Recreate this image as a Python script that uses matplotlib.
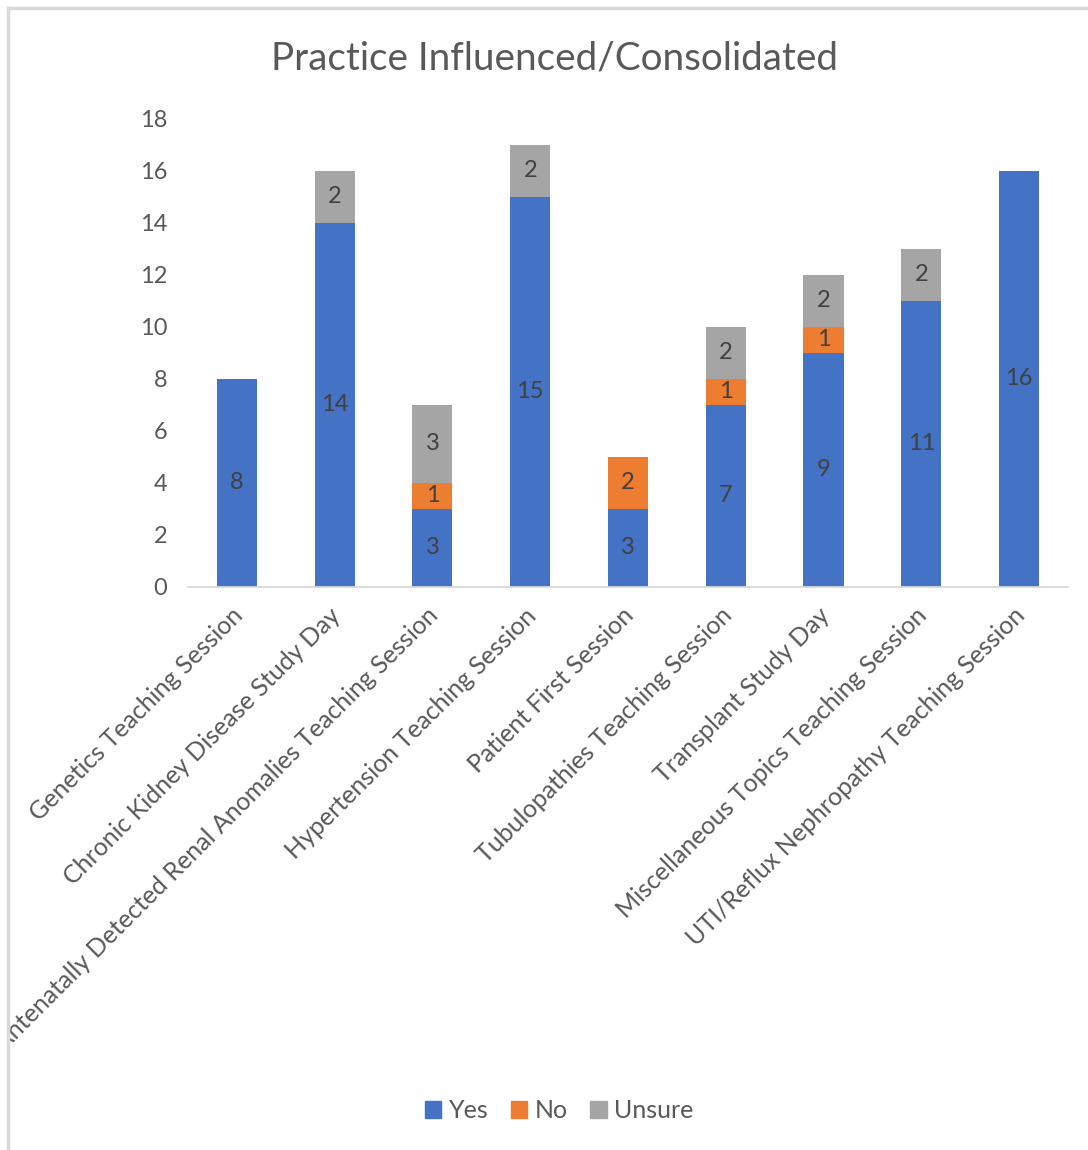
import matplotlib
matplotlib.use("Agg")
import matplotlib.pyplot as plt
import numpy as np
from matplotlib.lines import Line2D
from matplotlib.transforms import Bbox, TransformedBbox, ScaledTranslation

# data
categories = [
    "Genetics Teaching Session",
    "Chronic Kidney Disease Study Day",
    "Antenatally Detected Renal Anomalies Teaching Session",
    "Hypertension Teaching Session",
    "Patient First Session",
    "Tubulopathies Teaching Session",
    "Transplant Study Day",
    "Miscellaneous Topics Teaching Session",
    "UTI/Reflux Nephropathy Teaching Session",
]
yes_vals = [8, 14, 3, 15, 3, 7, 9, 11, 16]
no_vals = [0, 0, 1, 0, 2, 1, 1, 0, 0]
unsure_vals = [0, 2, 3, 2, 0, 2, 2, 2, 0]
series_names = ["Yes", "No", "Unsure"]
y_ticks = [0, 2, 4, 6, 8, 10, 12, 14, 16, 18]

colors = ["#4472C4", "#ED7D31", "#A5A5A5"]
text_col = "#595959"

plt.rcParams['font.family'] = ['Lato', 'DejaVu Sans']

fig = plt.figure(figsize=(10.88, 11.5), dpi=100)
ax = fig.add_axes([0.1728, 0.4896, 0.8088, 0.4070])

x = np.arange(len(categories))
bottom = np.zeros(len(categories))
for name, vals, col in zip(series_names, [yes_vals, no_vals, unsure_vals], colors):
    vals = np.array(vals, dtype=float)
    ax.bar(x, vals, width=0.41, bottom=bottom, color=col, label=name, zorder=2)
    for xi, b, v in zip(x, bottom, vals):
        if v > 0:
            ax.text(xi, b + v / 2, "%d" % v, ha="center", va="center",
                    fontsize=17, color="#404040", zorder=3)
    bottom += vals

ax.set_xlim(-0.5, len(categories) - 0.5)
ax.set_ylim(0, 18)
ax.set_yticks(y_ticks)
ax.set_xticks(x)
ax.set_xticklabels(categories, rotation=45, ha="right", rotation_mode="anchor",
                   fontsize=18)
ax.tick_params(axis="both", length=0, labelsize=17, labelcolor=text_col)
ax.tick_params(axis="x", labelsize=18, pad=12)
ax.tick_params(axis="y", pad=15)

for s in ["top", "right", "left"]:
    ax.spines[s].set_visible(False)
ax.spines["bottom"].set_color("#d9d9d9")
ax.spines["bottom"].set_linewidth(1.3)

# nudge category labels a little left and clip them at the chart border
shift = ScaledTranslation(-6 / 100, 0, fig.dpi_scale_trans)
clip = TransformedBbox(Bbox([[8.5 / 1088, 0], [1, 1]]), fig.transFigure)
for lab in ax.get_xticklabels():
    lab.set_transform(lab.get_transform() + shift)
    lab.set_clip_box(clip)
    lab.set_clip_on(True)

fig.text(0.51, 0.949, "Practice Influenced/Consolidated", ha="center", va="center",
         fontsize=27.8, color=text_col)

handles = [plt.Rectangle((0, 0), 1, 1, color=c) for c in colors]
fig.legend(handles, series_names, loc="center", bbox_to_anchor=(0.514, 0.034), ncol=3,
           frameon=False, fontsize=18, labelcolor=text_col, handlelength=0.65,
           handleheight=0.65, handletextpad=0.3, columnspacing=0.9)

# chart area border (top and left edges visible in reference)
fig.add_artist(Line2D([8 / 1088, 8 / 1088], [0, 1 - 8 / 1150], transform=fig.transFigure,
                      color="#d9d9d9", lw=2.5))
fig.add_artist(Line2D([8 / 1088, 1], [1 - 8 / 1150, 1 - 8 / 1150], transform=fig.transFigure,
                      color="#d9d9d9", lw=2.5))

fig.savefig("out.png", dpi=100)
